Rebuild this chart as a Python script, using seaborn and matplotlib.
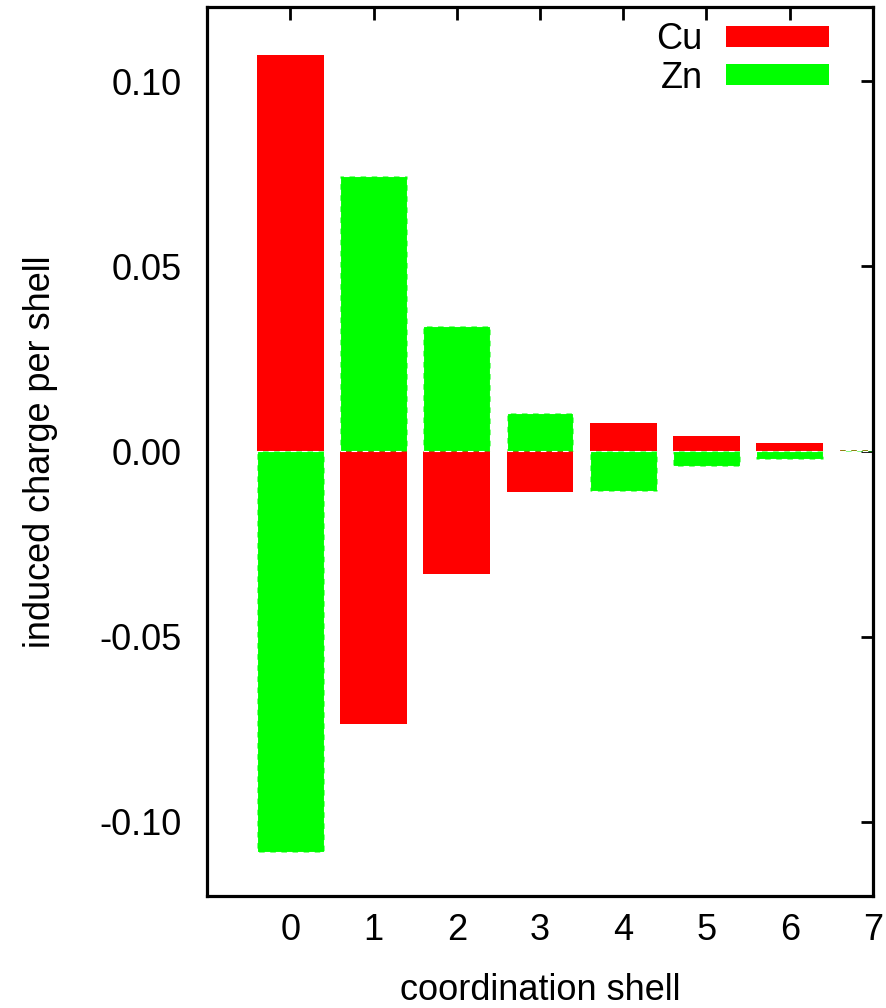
import matplotlib
matplotlib.use("Agg")
import matplotlib.pyplot as plt
import seaborn as sns
import pandas as pd
from matplotlib.patches import Patch

shells = [0, 1, 2, 3, 4, 5, 6, 7]
cu = [0.107, -0.0735, -0.033, -0.011, 0.0076, 0.0043, 0.0024, 0.0003]
zn = [-0.108, 0.0745, 0.034, 0.0105, -0.0108, -0.0038, -0.0019, 0.0004]
yticks = [-0.10, -0.05, 0.00, 0.05, 0.10]
ytick_labels = ["-0.10", "-0.05", "0.00", "0.05", "0.10"]

sns.set_style("white")
plt.rcParams["font.family"] = ["Liberation Sans", "DejaVu Sans"]
plt.rcParams["text.color"] = "black"
plt.rcParams["axes.labelcolor"] = "black"
plt.rcParams["xtick.color"] = "black"
plt.rcParams["ytick.color"] = "black"

FS = 26

df = pd.DataFrame({"shell": shells, "Cu": cu, "Zn": zn})

fig = plt.figure(figsize=(8.87, 10.08), dpi=100)
ax = fig.add_axes([0.2334, 0.1111, 0.9842 - 0.2334, 0.9931 - 0.1111])

sns.barplot(data=df, x="shell", y="Cu", color="#ff0000", saturation=1, width=0.8,
            linewidth=0, ax=ax)
sns.barplot(data=df, x="shell", y="Zn", color="#00ff00", saturation=1, width=0.8,
            linewidth=0.8, edgecolor="white", linestyle=(0, (5, 5)), ax=ax)

ax.set_xlim(-1, 7)
ax.set_ylim(-0.12, 0.12)
ax.set_xticks(shells)
ax.set_xticklabels([str(s) for s in shells])
ax.set_yticks(yticks)
ax.set_yticklabels(ytick_labels)

for s in ax.spines.values():
    s.set_visible(True)
    s.set_color("black")
    s.set_linewidth(2.3)

ax.tick_params(direction="in", length=9, width=2, labelsize=FS, color="black",
               top=True, right=True)
ax.tick_params(axis="y", pad=18)
ax.tick_params(axis="x", pad=12)

ax.set_xlabel("coordination shell", fontsize=FS, labelpad=18)
ax.set_ylabel("induced charge per shell", fontsize=FS, labelpad=30)

handles = [Patch(facecolor="#ff0000", edgecolor="none", label="Cu"),
           Patch(facecolor="#00ff00", edgecolor="none", label="Zn")]
ax.legend(handles=handles, loc="upper right", markerfirst=False, frameon=False,
          fontsize=FS, handlelength=2.86, handleheight=0.53, labelspacing=0.1,
          handletextpad=0.64, borderpad=0, borderaxespad=0,
          bbox_to_anchor=(829 / 887, 1 - 22 / 1008), bbox_transform=fig.transFigure)

fig.savefig("out.png", dpi=100)
